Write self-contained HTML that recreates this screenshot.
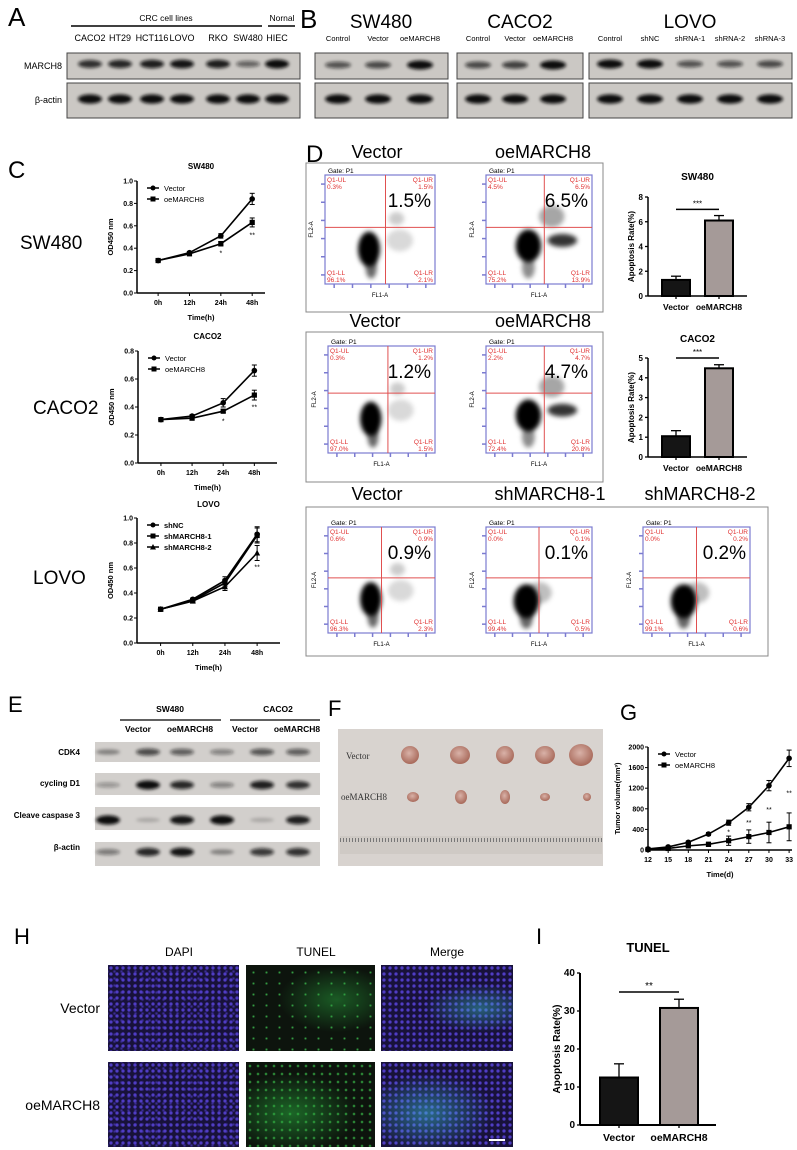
<!DOCTYPE html>
<html><head><meta charset="utf-8">
<style>
html,body{margin:0;padding:0;background:#fff;}
#wrap{position:relative;width:797px;height:1150px;overflow:hidden;font-family:"Liberation Sans",sans-serif;}
svg{position:absolute;left:0;top:0;}
.mic{position:absolute;}
.dapi{background:radial-gradient(circle,#5a46d8 0,#4a38b8 1.2px,transparent 2.2px) 0 0/6px 6px,radial-gradient(circle,#4333a8 0,transparent 2px) 3px 3px/7px 7px,#18123a;}
.tunel1{background:radial-gradient(ellipse at 70% 40%,rgba(40,160,60,.5),transparent 45%),radial-gradient(circle,#3fc050 0,transparent 1.6px) 1px 2px/13px 11px,#0d140d;}
.tunel2{background:radial-gradient(ellipse at 35% 60%,rgba(40,170,60,.55),transparent 55%),radial-gradient(circle,#3fd050 0,transparent 1.8px) 0 0/8px 8px,#0d140d;}
.merge1{background:radial-gradient(ellipse at 75% 50%,rgba(60,190,200,.45),transparent 40%),radial-gradient(circle,#5a46d8 0,#4a38b8 1.2px,transparent 2.2px) 0 0/6px 6px,#18123a;}
.merge2{background:radial-gradient(ellipse at 35% 60%,rgba(60,190,210,.5),transparent 55%),radial-gradient(circle,#5a46d8 0,#4a38b8 1.2px,transparent 2.2px) 0 0/6px 6px,#18123a;}
</style></head>
<body>
<div id="wrap">
<svg id="fig" width="797" height="1150" viewBox="0 0 797 1150" xmlns="http://www.w3.org/2000/svg" font-family="Liberation Sans, sans-serif">
<defs>
<filter id="blur1" x="-50%" y="-100%" width="200%" height="300%"><feGaussianBlur stdDeviation="1.6"/></filter>
<filter id="blur2" x="-50%" y="-50%" width="200%" height="200%"><feGaussianBlur stdDeviation="2.5"/></filter>
<radialGradient id="tum" cx="45%" cy="40%" r="60%"><stop offset="0" stop-color="#d9b2a8"/><stop offset="1" stop-color="#a8695a"/></radialGradient>
</defs>
<!-- panel letters -->
<text x="8" y="26" font-size="26">A</text>
<text x="300" y="28" font-size="26">B</text>
<text x="8" y="178" font-size="24">C</text>
<text x="306" y="162" font-size="24">D</text>
<text x="8" y="712" font-size="22">E</text>
<text x="328" y="716" font-size="22">F</text>
<text x="620" y="720" font-size="22">G</text>
<text x="14" y="944" font-size="22">H</text>
<text x="536" y="944" font-size="22">I</text>

<!-- A header -->
<text x="166" y="21" font-size="8.5" text-anchor="middle">CRC cell lines</text>
<line x1="71" y1="26" x2="262" y2="26" stroke="#000" stroke-width="1.5"/>
<text x="282" y="21" font-size="8.5" text-anchor="middle">Nornal</text>
<line x1="268" y1="26" x2="295" y2="26" stroke="#000" stroke-width="1.5"/>
<text x="62" y="69" font-size="9" text-anchor="end">MARCH8</text>
<text x="62" y="103" font-size="9" text-anchor="end">β-actin</text>

<!-- B titles -->
<text x="381" y="28" font-size="19" text-anchor="middle">SW480</text>
<text x="520" y="28" font-size="19" text-anchor="middle">CACO2</text>
<text x="690" y="28" font-size="19" text-anchor="middle">LOVO</text>

<!-- C row labels -->
<text x="20" y="249" font-size="19">SW480</text>
<text x="33" y="414" font-size="19">CACO2</text>
<text x="33" y="584" font-size="19">LOVO</text>

<!-- D boxes -->
<rect x="306" y="163" width="297" height="149" fill="none" stroke="#888" stroke-width="1"/>
<rect x="306" y="332" width="297" height="150" fill="none" stroke="#888" stroke-width="1"/>
<rect x="306" y="507" width="462" height="149" fill="none" stroke="#888" stroke-width="1"/>
<text x="377" y="158" font-size="18" text-anchor="middle">Vector</text>
<text x="543" y="158" font-size="18" text-anchor="middle">oeMARCH8</text>
<text x="375" y="327" font-size="18" text-anchor="middle">Vector</text>
<text x="543" y="327" font-size="18" text-anchor="middle">oeMARCH8</text>
<text x="377" y="500" font-size="18" text-anchor="middle">Vector</text>
<text x="550" y="500" font-size="18" text-anchor="middle">shMARCH8-1</text>
<text x="700" y="500" font-size="18" text-anchor="middle">shMARCH8-2</text>

<!-- E header -->
<text x="170" y="712" font-size="8.5" font-weight="bold" text-anchor="middle">SW480</text>
<line x1="120" y1="720" x2="221" y2="720" stroke="#000" stroke-width="1.3"/>
<text x="278" y="712" font-size="8.5" font-weight="bold" text-anchor="middle">CACO2</text>
<line x1="230" y1="720" x2="320" y2="720" stroke="#000" stroke-width="1.3"/>
<text x="138" y="732" font-size="8.5" font-weight="bold" text-anchor="middle">Vector</text>
<text x="190" y="732" font-size="8.5" font-weight="bold" text-anchor="middle">oeMARCH8</text>
<text x="245" y="732" font-size="8.5" font-weight="bold" text-anchor="middle">Vector</text>
<text x="297" y="732" font-size="8.5" font-weight="bold" text-anchor="middle">oeMARCH8</text>
<text x="80" y="755" font-size="8" font-weight="bold" text-anchor="end">CDK4</text>
<text x="80" y="786" font-size="8" font-weight="bold" text-anchor="end">cycling D1</text>
<text x="80" y="818" font-size="8" font-weight="bold" text-anchor="end">Cleave caspase 3</text>
<text x="80" y="850" font-size="8" font-weight="bold" text-anchor="end">β-actin</text>

<!-- F photo -->
<rect x="338" y="729" width="265" height="137" fill="#d8d3cf"/>
<text x="346" y="759" font-size="9" font-family="Liberation Serif, serif" fill="#333">Vector</text>
<text x="341" y="800" font-size="9" font-family="Liberation Serif, serif" fill="#333">oeMARCH8</text>
<rect x="340" y="836" width="262" height="18" fill="#cfcac5"/>
<line x1="340" y1="840" x2="602" y2="840" stroke="#777" stroke-width="4" stroke-dasharray="1 2"/>

<!-- H labels -->
<text x="179" y="956" font-size="12" text-anchor="middle">DAPI</text>
<text x="316" y="956" font-size="12" text-anchor="middle">TUNEL</text>
<text x="447" y="956" font-size="12" text-anchor="middle">Merge</text>
<text x="100" y="1013" font-size="14" text-anchor="end">Vector</text>
<text x="100" y="1110" font-size="14" text-anchor="end">oeMARCH8</text>
</svg>
<div class="mic dapi" style="left:108px;top:965px;width:131px;height:86px"></div>
<div class="mic tunel1" style="left:246px;top:965px;width:129px;height:86px"></div>
<div class="mic merge1" style="left:381px;top:965px;width:132px;height:86px"></div>
<div class="mic dapi" style="left:108px;top:1062px;width:131px;height:85px"></div>
<div class="mic tunel2" style="left:246px;top:1062px;width:129px;height:85px"></div>
<div class="mic merge2" style="left:381px;top:1062px;width:132px;height:85px"><div style="position:absolute;right:8px;bottom:6px;width:16px;height:2px;background:#fff"></div></div>
</div>
<script>
// ===== data =====
const timeCats = ['0h','12h','24h','48h'];
const sw480Vector = [0.29,0.36,0.51,0.84];
const sw480VectorErr = [0.01,0.01,0.02,0.05];
const sw480Oe = [0.29,0.35,0.44,0.63];
const sw480OeErr = [0.01,0.01,0.02,0.04];
const caco2Vector = [0.31,0.335,0.43,0.66];
const caco2VectorErr = [0.01,0.01,0.03,0.04];
const caco2Oe = [0.31,0.32,0.37,0.485];
const caco2OeErr = [0.01,0.01,0.01,0.035];
const lovoShNC = [0.27,0.35,0.50,0.87];
const lovoSh1 = [0.27,0.34,0.48,0.86];
const lovoSh2 = [0.27,0.335,0.45,0.72];
const lovoErr = [0.01,0.01,0.03,0.06];
const odTicks10 = [0,0.2,0.4,0.6,0.8,1.0];
const odTicks08 = [0,0.2,0.4,0.6,0.8];
const barCats = ['Vector','oeMARCH8'];
const sw480Apop = [1.3,6.1];
const sw480ApopErr = [0.3,0.4];
const sw480ApopTicks = [0,2,4,6,8];
const caco2Apop = [1.05,4.48];
const caco2ApopErr = [0.28,0.18];
const caco2ApopTicks = [0,1,2,3,4,5];
const tunelApop = [12.5,30.8];
const tunelApopErr = [3.6,2.3];
const tunelTicks = [0,10,20,30,40];
const days = [12,15,18,21,24,27,30,33];
const tumorVector = [20,60,150,310,530,830,1250,1780];
const tumorVectorErr = [10,20,25,30,50,70,100,160];
const tumorOe = [10,30,80,110,180,260,340,450];
const tumorOeErr = [5,15,20,40,90,130,200,270];
const tumorTicks = [0,400,800,1200,1600,2000];
const tumorSig = ['*','**','**','**'];
// blot intensities
const aMarch8 = [0.75,0.8,0.85,0.9,0.85,0.45,0.95];
const aActin = [1,1,1,1,1,1,1];
const aLanes = ['CACO2','HT29','HCT116','LOVO','RKO','SW480','HIEC'];
const bSwMarch8 = [0.55,0.6,0.95];
const bCaMarch8 = [0.6,0.65,0.95];
const bLoMarch8 = [0.95,0.95,0.55,0.55,0.6];
const bLanesOe = ['Control','Vector','oeMARCH8'];
const bLanesSh = ['Control','shNC','shRNA-1','shRNA-2','shRNA-3'];
const eCdk4 = [0.25,0.6,0.5,0.3,0.55,0.5];
const eCyclin = [0.2,0.95,0.8,0.3,0.85,0.75];
const eCaspase = [1,0.05,0.9,1,0.05,0.85];
const eActin = [0.35,0.8,0.9,0.25,0.7,0.75];
// flow percentages [UL,UR,LL,LR]
const flowSwVec = ['0.3%','1.5%','96.1%','2.1%'];
const flowSwOe = ['4.5%','6.5%','75.2%','13.9%'];
const flowCaVec = ['0.3%','1.2%','97.0%','1.5%'];
const flowCaOe = ['2.2%','4.7%','72.4%','20.8%'];
const flowLoVec = ['0.6%','0.9%','96.3%','2.3%'];
const flowLoSh1 = ['0.0%','0.1%','99.4%','0.5%'];
const flowLoSh2 = ['0.0%','0.2%','99.1%','0.6%'];

const NS='http://www.w3.org/2000/svg';
const svg=document.getElementById('fig');
function mk(tag,attrs,parent,text){const e=document.createElementNS(NS,tag);for(const k in attrs)e.setAttribute(k,attrs[k]);if(text!=null)e.textContent=text;(parent||svg).appendChild(e);return e;}

// ===== blots =====
function blot(x,y,w,h,centers,vals,bw,bandY,name){
  const g=mk('g',{});
  
  
  const r=mk('rect',{x:x,y:y,width:w,height:h,fill:'#cbc8c4',stroke:'#444','stroke-width':1},g);
  
  
  vals.forEach((v,i)=>{
    const b=mk('ellipse',{cx:centers[i],cy:bandY,rx:bw/2,ry:2+v*2.6,fill:'#111','fill-opacity':Math.min(1,0.15+v*0.9),filter:'url(#blur1)'},g);
    
    
  });
}
const aC=[90,120,152,182,218,248,277];
blot(67,53,233,26,aC,aMarch8,24,64,'a-march8-blot');
blot(67,83,233,35,aC,aActin,24,99,'a-actin-blot');
aLanes.forEach((t,i)=>{const e=mk('text',{x:aC[i],y:41,'font-size':9,'text-anchor':'middle'},svg,t);
  
  });
const bSw=[338,378,420], bCa=[478,515,553], bLo=[610,650,690,730,770];
blot(315,53,133,26,bSw,bSwMarch8,26,65,'b-sw480-march8');
blot(315,83,133,35,bSw,[1,1,1],26,99,'b-sw480-actin');
blot(457,53,126,26,bCa,bCaMarch8,26,65,'b-caco2-march8');
blot(457,83,126,35,bCa,[1,1,1],26,99,'b-caco2-actin');
blot(589,53,203,26,bLo,bLoMarch8,26,64,'b-lovo-march8');
blot(589,83,203,35,bLo,[1,1,1,1,1],26,99,'b-lovo-actin');
bLanesOe.forEach((t,i)=>{const e=mk('text',{x:bSw[i],y:41,'font-size':7.5,'text-anchor':'middle'},svg,t);
  
  });
bLanesOe.forEach((t,i)=>{const e=mk('text',{x:bCa[i],y:41,'font-size':7.5,'text-anchor':'middle'},svg,t);
  
  });
bLanesSh.forEach((t,i)=>{const e=mk('text',{x:bLo[i],y:41,'font-size':7.5,'text-anchor':'middle'},svg,t);
  
  });
const eC=[108,148,182,222,262,298];
blot(95,742,225,20,eC,eCdk4,24,752,'e-cdk4-blot');
blot(95,773,225,22,eC,eCyclin,24,785,'e-cyclin-blot');
blot(95,807,225,23,eC,eCaspase,24,820,'e-caspase-blot');
blot(95,842,225,24,eC,eActin,24,852,'e-actin-blot');
svg.querySelectorAll('rect').forEach(r=>{ if(r.getAttribute('y')>=742 && r.getAttribute('x')==95){r.setAttribute('stroke','none');r.setAttribute('fill','#d2cfcc');}});

// ===== line charts =====
function lineChart(o){
  const g=mk('g',{});
  
  
  const w=o.x1-o.x0;
  const ys=v=>o.yb-(v-o.ymin)/(o.ymax-o.ymin)*(o.yb-o.yt);
  const xs=i=>o.x0+w*(o.off+i*o.step);
  mk('line',{x1:o.x0,y1:o.yt,x2:o.x0,y2:o.yb,stroke:'#000','stroke-width':1.5},g);
  mk('line',{x1:o.x0,y1:o.yb,x2:o.x1,y2:o.yb,stroke:'#000','stroke-width':1.5},g);
  o.ticks.forEach(t=>{
    mk('line',{x1:o.x0-3,x2:o.x0,y1:ys(t),y2:ys(t),stroke:'#000'},g);
    const tl=mk('text',{x:o.x0-4,y:ys(t)+2.5,'font-size':7,'font-weight':'bold','text-anchor':'end'},g,o.fmt(t));
    
    
  });
  o.cats.forEach((c,i)=>{
    mk('line',{x1:xs(i),x2:xs(i),y1:o.yb,y2:o.yb+3,stroke:'#000'},g);
    const tl=mk('text',{x:xs(i),y:o.yb+12,'font-size':7,'font-weight':'bold','text-anchor':'middle'},g,c);
    
    
  });
  const tt=mk('text',{x:(o.x0+o.x1)/2,y:o.titleY,'font-size':8,'font-weight':'bold','text-anchor':'middle'},g,o.title);
  
  
  const xt=mk('text',{x:(o.x0+o.x1)/2,y:o.yb+27,'font-size':7.5,'font-weight':'bold','text-anchor':'middle'},g,o.xlabel);
  
  
  const yt=mk('text',{x:0,y:0,'font-size':7.5,'font-weight':'bold','text-anchor':'middle',transform:`translate(${o.x0-o.ylOff},${(o.yt+o.yb)/2}) rotate(-90)`},g,o.ylabel);
  
  
  o.series.forEach((s,si)=>{
    const pts=s.vals.map((v,i)=>xs(i)+','+ys(v)).join(' ');
    const pl=mk('polyline',{points:pts,fill:'none',stroke:'#000','stroke-width':1.6},g);
    
    
    s.vals.forEach((v,i)=>{
      const e=s.err?s.err[i]:0;
      if(e){mk('line',{x1:xs(i),x2:xs(i),y1:ys(v-e),y2:ys(v+e),stroke:'#000','stroke-width':1},g);
        mk('line',{x1:xs(i)-2.5,x2:xs(i)+2.5,y1:ys(v+e),y2:ys(v+e),stroke:'#000'},g);
        mk('line',{x1:xs(i)-2.5,x2:xs(i)+2.5,y1:ys(v-e),y2:ys(v-e),stroke:'#000'},g);}
      let m;
      if(s.shape==='sq') m=mk('rect',{x:xs(i)-2.6,y:ys(v)-2.6,width:5.2,height:5.2,fill:'#000'},g);
      else if(s.shape==='tri') m=mk('polygon',{points:`${xs(i)},${ys(v)-3.2} ${xs(i)-3},${ys(v)+2.5} ${xs(i)+3},${ys(v)+2.5}`,fill:'#000'},g);
      else m=mk('circle',{cx:xs(i),cy:ys(v),r:2.8,fill:'#000'},g);
      
      
    });
    const ly=o.yt+7+si*11;
    mk('line',{x1:o.x0+10,x2:o.x0+22,y1:ly,y2:ly,stroke:'#000','stroke-width':1.5},g);
    if(s.shape==='sq') mk('rect',{x:o.x0+13.5,y:ly-2.5,width:5,height:5},g);
    else if(s.shape==='tri') mk('polygon',{points:`${o.x0+16},${ly-3} ${o.x0+13},${ly+2.5} ${o.x0+19},${ly+2.5}`},g);
    else mk('circle',{cx:o.x0+16,cy:ly,r:2.5},g);
    const lt=mk('text',{x:o.x0+27,y:ly+3,'font-size':7.5,'font-weight':o.legBold?'bold':'normal'},g,s.label);
    
    
  });
  (o.sig||[]).forEach(sg=>{
    const st=mk('text',{x:xs(sg.i),y:ys(sg.v)+4,'font-size':7,'text-anchor':'middle'},g,sg.t);
    
    
  });
  return {xs,ys};
}
const f1=v=>v.toFixed(1);
lineChart({name:'chart-sw480-cck8',x0:137,x1:265,yt:181,yb:293,ymin:0,ymax:1,ticks:odTicks10,fmt:f1,cats:timeCats,off:0.165,step:0.245,
  title:'SW480',titleY:169,xlabel:'Time(h)',ylabel:'OD450 nm',ylOff:24,
  series:[{key:'vector',label:'Vector',vals:sw480Vector,err:sw480VectorErr,shape:'c'},{key:'oemarch8',label:'oeMARCH8',vals:sw480Oe,err:sw480OeErr,shape:'sq'}],
  sig:[{i:2,v:0.37,t:'*'},{i:3,v:0.53,t:'**'}]});
lineChart({name:'chart-caco2-cck8',x0:138,x1:277,yt:351,yb:463,ymin:0,ymax:0.8,ticks:odTicks08,fmt:f1,cats:timeCats,off:0.165,step:0.224,
  title:'CACO2',titleY:339,xlabel:'Time(h)',ylabel:'OD450 nm',ylOff:24,
  series:[{key:'vector',label:'Vector',vals:caco2Vector,err:caco2VectorErr,shape:'c'},{key:'oemarch8',label:'oeMARCH8',vals:caco2Oe,err:caco2OeErr,shape:'sq'}],
  sig:[{i:2,v:0.31,t:'*'},{i:3,v:0.41,t:'**'}]});
lineChart({name:'chart-lovo-cck8',x0:137,x1:280,yt:518,yb:643,ymin:0,ymax:1,ticks:odTicks10,fmt:f1,cats:timeCats,off:0.165,step:0.225,
  title:'LOVO',titleY:507,xlabel:'Time(h)',ylabel:'OD450 nm',ylOff:24,legBold:true,
  series:[{key:'shnc',label:'shNC',vals:lovoShNC,err:lovoErr,shape:'c'},{key:'shmarch8-1',label:'shMARCH8-1',vals:lovoSh1,err:lovoErr,shape:'sq'},{key:'shmarch8-2',label:'shMARCH8-2',vals:lovoSh2,err:lovoErr,shape:'tri'}],
  sig:[{i:3,v:0.62,t:'**'}]});
// tumor growth
const G=lineChart({name:'chart-tumor-volume',x0:648,x1:792,yt:747,yb:850,ymin:0,ymax:2000,ticks:tumorTicks,fmt:t=>String(t),cats:days.map(String),off:0.0,step:0.14,
  title:'',titleY:740,xlabel:'Time(d)',ylabel:'Tumor volume(mm³)',ylOff:28,
  series:[{key:'vector',label:'Vector',vals:tumorVector,err:tumorVectorErr,shape:'c'},{key:'oemarch8',label:'oeMARCH8',vals:tumorOe,err:tumorOeErr,shape:'sq'}]});
tumorSig.forEach((t,k)=>{const i=k+4;
  const st=mk('text',{x:G.xs(i),y:G.ys((tumorVector[i]+tumorOe[i])/2)+3,'font-size':7,'text-anchor':'middle'},svg,t);
  
  });

// ===== bar charts =====
function barChart(o){
  const g=mk('g',{});
  
  
  const ys=v=>o.yb-v/o.ymax*(o.yb-o.yt);
  mk('line',{x1:o.x0,y1:o.yt,x2:o.x0,y2:o.yb,stroke:'#000','stroke-width':o.sw},g);
  mk('line',{x1:o.x0,y1:o.yb,x2:o.x1,y2:o.yb,stroke:'#000','stroke-width':o.sw},g);
  o.ticks.forEach(t=>{mk('line',{x1:o.x0-3,x2:o.x0,y1:ys(t),y2:ys(t),stroke:'#000','stroke-width':1.3},g);
    const tl=mk('text',{x:o.x0-5,y:ys(t)+3,'font-size':o.fs,'font-weight':'bold','text-anchor':'end'},g,String(t));
    
    });
  const fills=['#151515','#a59a98'];
  o.vals.forEach((v,i)=>{
    const bx=o.bx[i];
    mk('line',{x1:bx+o.bw/2,x2:bx+o.bw/2,y1:ys(v),y2:ys(v+o.err[i]),stroke:'#000','stroke-width':1.3},g);
    mk('line',{x1:bx+o.bw/2-5,x2:bx+o.bw/2+5,y1:ys(v+o.err[i]),y2:ys(v+o.err[i]),stroke:'#000','stroke-width':1.3},g);
    const b=mk('rect',{x:bx,y:ys(v),width:o.bw,height:o.yb-ys(v),fill:fills[i],stroke:'#000','stroke-width':2},g);
    
    
    mk('line',{x1:bx+o.bw/2,x2:bx+o.bw/2,y1:o.yb,y2:o.yb+3,stroke:'#000','stroke-width':1.3},g);
    const tl=mk('text',{x:bx+o.bw/2,y:o.yb+o.fs+6,'font-size':o.fs+0.5,'font-weight':'bold','text-anchor':'middle'},g,o.cats[i]);
    
    
  });
  const sy=ys(o.sigV);
  mk('line',{x1:o.bx[0]+o.bw/2,x2:o.bx[1]+o.bw/2,y1:sy,y2:sy,stroke:'#000','stroke-width':1.5},g);
  const st=mk('text',{x:(o.bx[0]+o.bx[1]+o.bw)/2,y:sy-3,'font-size':o.fs,'text-anchor':'middle'},g,o.sig);
  
  
  const tt=mk('text',{x:(o.x0+o.x1)/2,y:o.titleY,'font-size':o.tfs,'font-weight':'bold','text-anchor':'middle'},g,o.title);
  
  
  const yt=mk('text',{x:0,y:0,'font-size':o.fs,'font-weight':'bold','text-anchor':'middle',transform:`translate(${o.x0-o.ylOff},${(o.yt+o.yb)/2}) rotate(-90)`},g,'Apoptosis Rate(%)');
  
  
}
barChart({name:'chart-sw480-apoptosis',x0:648,x1:747,yt:197,yb:296,ymax:8,ticks:sw480ApopTicks,cats:barCats,vals:sw480Apop,err:sw480ApopErr,bx:[662,705],bw:28,sigV:7.0,sig:'***',title:'SW480',titleY:180,fs:8,tfs:10,sw:1.5,ylOff:14});
barChart({name:'chart-caco2-apoptosis',x0:648,x1:747,yt:358,yb:457,ymax:5,ticks:caco2ApopTicks,cats:barCats,vals:caco2Apop,err:caco2ApopErr,bx:[662,705],bw:28,sigV:5.0,sig:'***',title:'CACO2',titleY:342,fs:8,tfs:10,sw:1.5,ylOff:14});
barChart({name:'chart-tunel-apoptosis',x0:580,x1:716,yt:973,yb:1125,ymax:40,ticks:tunelTicks,cats:barCats,vals:tunelApop,err:tunelApopErr,bx:[600,660],bw:38,sigV:35,sig:'**',title:'TUNEL',titleY:952,fs:10,tfs:13,sw:2,ylOff:20});

// ===== flow plots =====
function flow(px,py,w,h,pct,vx,hy,clusters,name){
  const g=mk('g',{});
  
  
  const gp=mk('text',{x:px+3,y:py-2,'font-size':6.5},g,'Gate: P1');
  
  
  clusters.forEach(c=>{
    mk('ellipse',{cx:px+c[0]*w,cy:py+c[1]*h,rx:c[2]*w,ry:c[3]*h,fill:'#000','fill-opacity':c[4],filter:'url(#blur2)'},g);
  });
  mk('rect',{x:px,y:py,width:w,height:h,fill:'none',stroke:'#7b7bd0','stroke-width':1.2},g);
  for(let i=0;i<6;i++){mk('line',{x1:px-4,x2:px,y1:py+h*(i+0.5)/6,y2:py+h*(i+0.5)/6,stroke:'#7b7bd0','stroke-width':1.5},g);
    mk('line',{x1:px+w*(i+0.5)/6,x2:px+w*(i+0.5)/6,y1:py+h,y2:py+h+4,stroke:'#7b7bd0','stroke-width':1.5},g);}
  mk('line',{x1:px+vx*w,x2:px+vx*w,y1:py,y2:py+h,stroke:'#e05050','stroke-width':1},g);
  mk('line',{x1:px,x2:px+w,y1:py+hy*h,y2:py+hy*h,stroke:'#e05050','stroke-width':1},g);
  const red={'font-size':6.5,fill:'#e03030'};
  mk('text',Object.assign({x:px+2,y:py+7},red),g,'Q1-UL');
  mk('text',Object.assign({x:px+2,y:py+14},red),g,pct[0]);
  mk('text',Object.assign({x:px+w-2,y:py+7,'text-anchor':'end'},red),g,'Q1-UR');
  mk('text',Object.assign({x:px+w-2,y:py+14,'text-anchor':'end'},red),g,pct[1]);
  mk('text',Object.assign({x:px+2,y:py+h-9},red),g,'Q1-LL');
  mk('text',Object.assign({x:px+2,y:py+h-2},red),g,pct[2]);
  mk('text',Object.assign({x:px+w-2,y:py+h-9,'text-anchor':'end'},red),g,'Q1-LR');
  mk('text',Object.assign({x:px+w-2,y:py+h-2,'text-anchor':'end'},red),g,pct[3]);
  const big=mk('text',{x:px+w-4,y:py+32,'font-size':19,'text-anchor':'end'},g,pct[1]);
  
  
  mk('text',{x:px+w/2,y:py+h+13,'font-size':6,'text-anchor':'middle'},g,'FL1-A');
  mk('text',{x:0,y:0,'font-size':6,'text-anchor':'middle',transform:`translate(${px-12},${py+h/2}) rotate(-90)`},g,'FL2-A');
}
const cVec=[[0.4,0.68,0.1,0.16,1],[0.42,0.85,0.05,0.1,0.6],[0.68,0.6,0.12,0.1,0.15],[0.65,0.4,0.07,0.06,0.2]];
const cOe=[[0.4,0.65,0.12,0.15,1],[0.72,0.6,0.14,0.06,0.8],[0.62,0.38,0.12,0.1,0.35],[0.4,0.85,0.06,0.1,0.45]];
const cSh=[[0.38,0.7,0.12,0.16,1],[0.38,0.86,0.06,0.1,0.6],[0.5,0.62,0.12,0.1,0.25]];
flow(325,175,110,109,flowSwVec,0.55,0.48,cVec,'flow-sw480-vector');
flow(486,175,106,109,flowSwOe,0.55,0.48,cOe,'flow-sw480-oemarch8');
flow(328,346,107,107,flowCaVec,0.56,0.44,cVec,'flow-caco2-vector');
flow(486,346,106,107,flowCaOe,0.55,0.44,cOe,'flow-caco2-oemarch8');
flow(328,527,107,106,flowLoVec,0.5,0.48,cVec,'flow-lovo-vector');
flow(486,527,106,106,flowLoSh1,0.5,0.48,cSh,'flow-lovo-shmarch8-1');
flow(643,527,107,106,flowLoSh2,0.5,0.48,cSh,'flow-lovo-shmarch8-2');

// ===== tumors =====
const tumorRow1 = [[410,9,9],[460,10,9],[505,9,9],[545,10,9],[581,12,11]];
const tumorRow2 = [[413,6,5],[461,6,7],[505,5,7],[545,5,4],[587,4,4]];
tumorRow1.forEach(t=>{const e=mk('ellipse',{cx:t[0],cy:755,rx:t[1],ry:t[2],fill:'url(#tum)'});
  
  });
tumorRow2.forEach(t=>{const e=mk('ellipse',{cx:t[0],cy:797,rx:t[1],ry:t[2],fill:'url(#tum)'});
  
  });
</script>
</body></html>
